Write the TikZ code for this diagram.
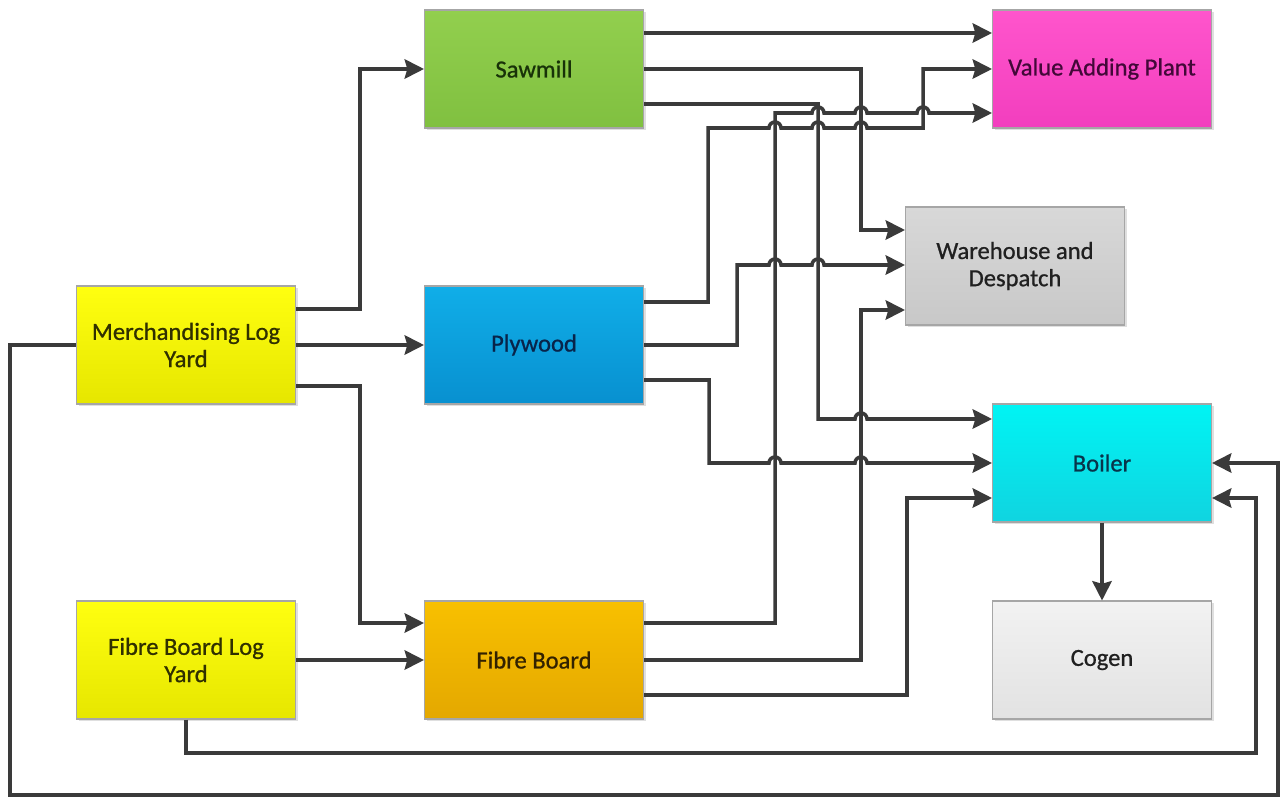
\documentclass[tikz,border=0pt]{standalone}
\usepackage{fontspec}
\setmainfont{Carlito}[FakeBold=0.8]
\usetikzlibrary{arrows.meta,shadows}

% box fills (top / bottom) and text colours
\definecolor{linec}{HTML}{3A3A3A}
\definecolor{yelT}{HTML}{FFFF10}\definecolor{yelB}{HTML}{E6E600}\definecolor{yelX}{HTML}{303000}
\definecolor{grnT}{HTML}{92CF4E}\definecolor{grnB}{HTML}{80C040}\definecolor{grnX}{HTML}{183208}
\definecolor{bluT}{HTML}{10AEE8}\definecolor{bluB}{HTML}{0890D0}\definecolor{bluX}{HTML}{08244A}
\definecolor{orgT}{HTML}{F8C000}\definecolor{orgB}{HTML}{E4A800}\definecolor{orgX}{HTML}{322200}
\definecolor{magT}{HTML}{FF55CC}\definecolor{magB}{HTML}{F23EBE}\definecolor{magX}{HTML}{420838}
\definecolor{gryT}{HTML}{D8D8D8}\definecolor{gryB}{HTML}{C8C8C8}\definecolor{gryX}{HTML}{202020}
\definecolor{cyaT}{HTML}{00F4F4}\definecolor{cyaB}{HTML}{10D4E0}\definecolor{cyaX}{HTML}{08344A}
\definecolor{lgyT}{HTML}{F2F2F2}\definecolor{lgyB}{HTML}{E2E2E2}

\tikzset{
  blk/.style={draw=black!35, line width=0.6pt, minimum width=4.38cm, minimum height=2.36cm,
    inner sep=0pt, align=center, font=\fontsize{14}{15.5}\selectfont,
    drop shadow={shadow xshift=1.2pt, shadow yshift=-1.2pt, opacity=0.25}},
  shade2/.style n args={3}{blk, top color=#1, bottom color=#2, text=#3},
  flow/.style={draw=linec, line width=2pt, line join=miter,
    -{Stealth[length=11pt, width=11pt, inset=1.5pt]}}
}
% a small bridge where a horizontal run passes over a vertical one
\def\hp#1#2{-- ({#1-6},#2) arc[start angle=180, end angle=360, radius=6]}

\begin{document}
\begin{tikzpicture}[x=0.02cm, y=-0.02cm]
\useasboundingbox (0,0) rectangle (1284,797);

% process blocks
\node[shade2={yelT}{yelB}{yelX}] (mly)  at (186,345) {Merchandising Log\\Yard};
\node[shade2={yelT}{yelB}{yelX}] (fbly) at (186,660) {Fibre Board Log\\Yard};
\node[shade2={grnT}{grnB}{grnX}] (saw)  at (534,69)  {Sawmill};
\node[shade2={bluT}{bluB}{bluX}] (ply)  at (534,345) {Plywood};
\node[shade2={orgT}{orgB}{orgX}] (fb)   at (534,660) {Fibre Board};
\node[shade2={magT}{magB}{magX}] (vap)  at (1102,69) {Value Adding Plant};
\node[shade2={gryT}{gryB}{gryX}] (wh)   at (1015,266) {Warehouse and\\Despatch};
\node[shade2={cyaT}{cyaB}{cyaX}] (boil) at (1102,463) {Boiler};
\node[shade2={lgyT}{lgyB}{gryX}] (cog)  at (1102,660) {Cogen};

% log yards to mills
\draw[flow] (mly.east |- 0,309) -- (360,309) -- (360,69) -- (saw.west);
\draw[flow] (mly.east) -- (ply.west);
\draw[flow] (mly.east |- 0,386) -- (360,386) -- (360,623) -- (fb.west |- 0,623);
\draw[flow] (fbly.east) -- (fb.west);

% sawmill outputs
\draw[flow] (saw.east |- 0,33) -- (vap.west |- 0,33);
\draw[flow] (saw.east) -- (861,69) -- (861,230) -- (wh.west |- 0,230);
\draw[flow] (saw.east |- 0,104) -- (818,104) -- (818,419) \hp{861}{419} -- (boil.west |- 0,419);

% plywood outputs
\draw[flow] (ply.east |- 0,302) -- (708,302) -- (708,128) \hp{775}{128} \hp{818}{128} \hp{861}{128}
  -- (923,128) -- (923,69) -- (vap.west |- 0,69);
\draw[flow] (ply.east) -- (737,345) -- (737,265) \hp{775}{265} \hp{818}{265} -- (wh.west |- 0,265);
\draw[flow] (ply.east |- 0,380) -- (709,380) -- (709,463) \hp{775}{463} \hp{861}{463} -- (boil.west);

% fibre board outputs
\draw[flow] (fb.east |- 0,623) -- (775,623) -- (775,113) \hp{818}{113} \hp{861}{113} \hp{923}{113}
  -- (vap.west |- 0,113);
\draw[flow] (fb.east) -- (861,660) -- (861,310) -- (wh.west |- 0,310);
\draw[flow] (fb.east |- 0,695) -- (907,695) -- (907,498) -- (boil.west |- 0,498);

% boiler to cogeneration
\draw[flow] (boil.south) -- (cog.north);

% residue loops from the log yards back to the boiler
\draw[flow] (mly.west) -- (10,345) -- (10,795) -- (1278,795) -- (1278,463) -- (boil.east);
\draw[flow] (fbly.south) -- (186,753) -- (1256,753) -- (1256,498) -- (boil.east |- 0,498);
\end{tikzpicture}
\end{document}
